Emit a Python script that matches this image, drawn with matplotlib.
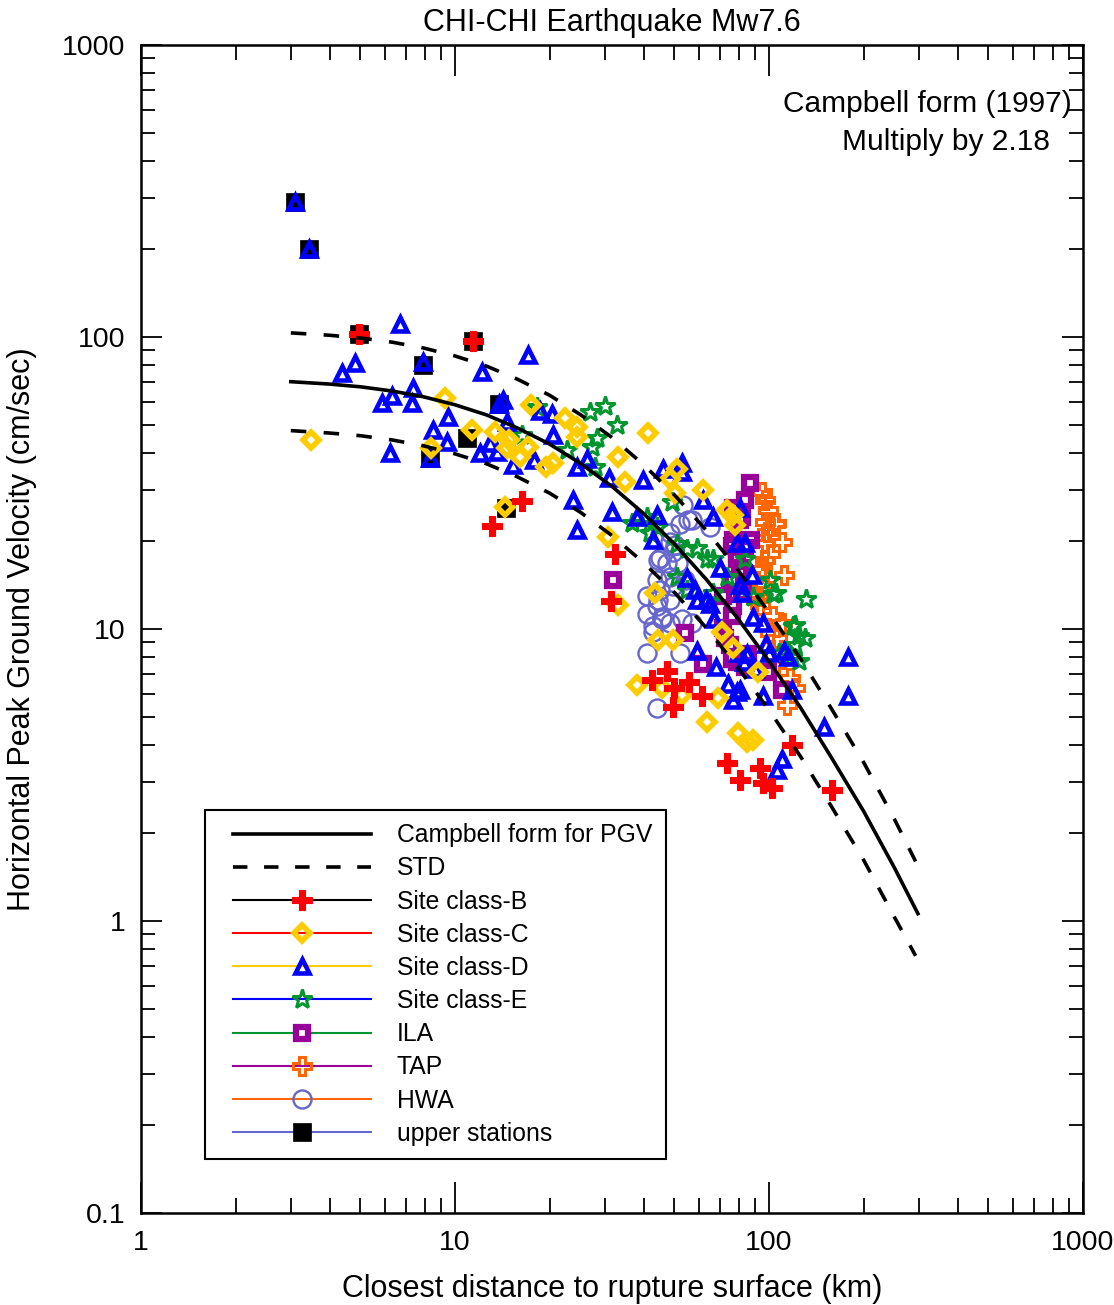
import matplotlib
matplotlib.use('Agg')
import matplotlib.pyplot as plt
from matplotlib.lines import Line2D
from matplotlib.legend_handler import HandlerLine2D
from matplotlib.ticker import FixedLocator, NullFormatter, FixedFormatter

plt.rcParams['font.family'] = ['Liberation Sans', 'DejaVu Sans']

# model curves
curve_r = [3.0, 3.98, 5.01, 6.31, 7.94, 10, 12.6, 15.8, 20, 25.1, 31.6, 39.8,
           50.1, 63.1, 79.4, 100, 126, 158, 200, 251, 298]
curve_pgv = [70.3, 69.0, 67.5, 65.3, 62.4, 58.6, 54.1, 48.8, 43.0, 36.9, 30.8,
             24.9, 19.5, 14.8, 10.9, 7.76, 5.38, 3.63, 2.38, 1.52, 1.06]
std_r = [3.0, 3.98, 5.01, 6.31, 7.94, 10, 12.6, 15.8, 20, 25.1, 31.6, 39.8,
         50.1, 63.1, 79.4, 100, 126, 158, 200, 251, 293]
std_hi_pgv = [103.3, 101.4, 99.2, 96.0, 91.7, 86.1, 79.5, 71.7, 63.2, 54.2,
              45.3, 36.6, 28.7, 21.8, 16.0, 11.4, 7.91, 5.34, 3.50, 2.23, 1.60]
std_lo_pgv = [47.8, 46.9, 45.9, 44.4, 42.4, 39.8, 36.8, 33.2, 29.2, 25.1,
              20.9, 16.9, 13.3, 10.1, 7.41, 5.28, 3.66, 2.47, 1.62, 1.03, 0.76]

# observations
upper_r = [3.1, 3.43, 4.94, 11.4, 7.9, 13.8, 10.9, 8.3, 14.5]
upper_pgv = [290, 200, 102, 97, 80, 59, 45, 38.6, 26]

hwa_r = [53.2, 55.2, 52, 48.3, 50.2, 45, 47.4, 65, 57, 48.3, 49.4, 44.3, 51.2,
         48.3, 44, 49.4, 45, 41, 48.3, 44, 41, 45.7, 42.6, 48.3, 41, 52, 57,
         54, 44.3, 45.7, 53, 42.6, 44]
hwa_pgv = [26.6, 23.6, 22.8, 21.3, 19.4, 17.5, 16.8, 22.3, 23.6, 19.8, 18.3,
           17.2, 16.8, 15.1, 14.7, 14.0, 13.6, 13.0, 12.6, 12.0, 11.3, 11.0,
           10.2, 10.5, 8.3, 8.3, 10.5, 14.7, 12.6, 10.8, 10.8, 9.8, 5.36]

tap_r = [95, 97, 99.4, 97, 104.5, 98.7, 110, 97, 100.6, 97, 112, 95, 97, 92,
         93.5, 87, 103, 100.6, 106, 105.5, 117, 121, 114, 110, 105.5]
tap_pgv = [29.5, 27.6, 25.6, 23.3, 22.8, 21.5, 19.8, 19.7, 18.1, 17.2, 15.3,
           16.0, 14.1, 13.0, 12.1, 13.2, 11.1, 9.7, 9.3, 7.5, 6.8, 6.3, 5.5,
           10.5, 23.1]

ila_r = [87, 84, 77, 82, 81, 77, 76.4, 79, 87.8, 83.6, 79, 82, 81, 76.4, 75,
         82.6, 77, 31.9, 54, 71.5, 61.6, 76.4, 72.5, 79, 86, 71.5, 75, 76.4,
         83.6, 99, 110]
ila_pgv = [31.6, 27.6, 26, 24.1, 23.7, 20.2, 19.3, 18.1, 20.2, 19.0, 17.4,
           16.2, 15.6, 14.7, 13.2, 13.3, 12.0, 14.7, 9.7, 10.1, 7.6, 11.1, 9.3,
           7.7, 8.2, 13.0, 8.8, 7.9, 7.4, 7.1, 6.2]

e_r = [26.9, 30, 32.8, 28.3, 27.3, 28, 22.7, 36.6, 41, 41.8, 44, 41.8, 49,
       50.9, 54.9, 59, 63.5, 66.3, 50.9, 54.9, 66.3, 73.5, 84, 100.6, 105.5,
       88.7, 131, 119, 125, 103, 121, 130, 121, 125, 118, 108, 16.3, 18.3]
e_pgv = [55.2, 58, 50, 45, 42, 35.8, 41, 23, 24.2, 22.8, 22.3, 21.4, 27.2,
         19.5, 18.8, 19, 17.3, 17.3, 15.1, 13.6, 13.3, 15.1, 17.3, 14.7, 13.3,
         12.9, 12.7, 10.2, 9.5, 13.2, 10.3, 9.3, 8.8, 7.8, 8.0, 8.3, 46, 57.5]

d_r = [3.1, 3.43, 6.7, 4.8, 4.37, 7.9, 12.2, 17.1, 6.3, 7.3, 7.35, 5.85, 9.5,
       8.5, 9.4, 14.2, 14.6, 12.9, 12.0, 13.6, 15.3, 17.9, 20.5, 20.4, 18.6,
       6.2, 8.3, 13.8, 23.7, 24.5, 26.3, 24.5, 31, 39.8, 46, 52.8, 53, 31.6,
       38, 44, 42.6, 61.6, 66.3, 81, 79, 84, 70, 88, 81, 58, 59, 65, 55, 63,
       67, 58.9, 68, 73.8, 81, 76.9, 79.4, 82, 89, 95.6, 97.5, 100, 112, 115,
       85, 83, 90, 79, 95.6, 118, 178, 178, 150, 110, 106]
d_pgv = [290, 200, 111, 81.5, 75.2, 82, 76, 86.6, 62.7, 59.5, 66.9, 59.6,
         53.2, 48.2, 43.7, 60.7, 51.3, 43.4, 40.1, 40.3, 36.4, 37.9, 46.0,
         54.4, 55.7, 40, 38.6, 59, 27.6, 21.9, 38.1, 35.8, 33, 32.3, 35.3, 37,
         34.5, 25.2, 24.2, 24.5, 20.2, 27.6, 24.2, 25.9, 19.7, 19.7, 16.2,
         15.3, 14.1, 13.6, 12.6, 12.2, 14.9, 12.6, 10.8, 8.4, 7.4, 6.5, 6.2,
         5.7, 8.3, 13.3, 11.0, 10.5, 8.9, 8.3, 8.4, 8.0, 8.2, 7.7, 7.3, 6.1,
         5.9, 6.2, 8.0, 5.9, 4.6, 3.6, 3.3]

c_r = [3.48, 9.3, 11.3, 13.4, 14.9, 14.6, 16.1, 17.1, 17.5, 20.5, 22.4, 24.5,
       24.5, 8.4, 14.4, 41.3, 33, 34.8, 48.3, 50.9, 50.2, 61.6, 30.6, 73.5,
       76.9, 78, 33, 43.2, 44.3, 49.4, 71, 76.9, 37.9, 45.6, 52.8, 68.9,
       63.5, 79.4, 85, 89, 92, 19.5]
c_pgv = [44.4, 62, 48, 47.4, 44.4, 41.6, 38.8, 42.0, 58.5, 37, 52.7, 49.1,
         45.4, 41.6, 26.2, 46.9, 38.8, 31.9, 32.6, 35.4, 29.2, 30, 20.7, 25.5,
         24.6, 22.7, 12.1, 13.3, 9.2, 9.2, 9.8, 8.6, 6.45, 6.3, 5.95, 5.8,
         4.8, 4.4, 4.1, 4.17, 7.1, 36.0]

b_r = [4.94, 11.4, 13.1, 16.3, 32.3, 31.4, 42.3, 47.5, 50.0, 55.8, 61.0, 49.4,
       73.5, 81, 93.5, 95.6, 102, 118, 159]
b_pgv = [102, 97, 22.5, 27.4, 18.1, 12.5, 6.7, 7.2, 6.3, 6.6, 5.9, 5.4, 3.48,
         3.04, 3.34, 2.97, 2.85, 4.0, 2.81]

RED = '#ff0000'
GOLD = '#ffcc00'
BLUE = '#0000ff'
GREEN = '#00962f'
PURPLE = '#990099'
ORANGE = '#ff6600'
SLATE = '#6666cc'

sty_b = dict(marker='P', ms=14.5, mfc=RED, mec=RED, mew=0.8)
sty_c = dict(marker='D', ms=8, mfc='none', mec=GOLD, mew=4.0)
sty_d = dict(marker='^', ms=9.5, mfc='none', mec=BLUE, mew=3.3)
sty_e = dict(marker='*', ms=15, mfc='none', mec=GREEN, mew=2.2)
sty_ila = dict(marker='s', ms=8.8, mfc='white', mec=PURPLE, mew=4.5)
sty_tap = dict(marker='P', ms=13, mfc='none', mec=ORANGE, mew=2.2)
sty_hwa = dict(marker='o', ms=13, mfc='none', mec=SLATE, mew=1.7)
sty_up = dict(marker='s', ms=13.5, mfc='black', mec='black', mew=0.5)

fig = plt.figure(figsize=(11.14, 13.05), dpi=100)
ax = fig.add_axes([141 / 1114, 1 - 1213 / 1305, 942 / 1114, 1168 / 1305])

ax.plot(upper_r, upper_pgv, ls='none', zorder=2, **sty_up)
ax.plot(hwa_r, hwa_pgv, ls='none', zorder=3, **sty_hwa)
ax.plot(tap_r, tap_pgv, ls='none', zorder=3, **sty_tap)
ax.plot(ila_r, ila_pgv, ls='none', zorder=3, **sty_ila)
ax.plot(e_r, e_pgv, ls='none', zorder=3, **sty_e)
ax.plot(d_r, d_pgv, ls='none', zorder=3, **sty_d)
ax.plot(c_r, c_pgv, ls='none', zorder=3, **sty_c)
ax.plot(b_r, b_pgv, ls='none', zorder=3, **sty_b)

ax.plot(curve_r, curve_pgv, color='black', lw=2.6, zorder=5)
ax.plot(std_r, std_hi_pgv, color='black', lw=2.6, dashes=(4.3, 4.8), zorder=5)
ax.plot(std_r, std_lo_pgv, color='black', lw=2.6, dashes=(4.3, 4.8), zorder=5)

ax.set_xscale('log')
ax.set_yscale('log')
ax.set_xlim(1, 1000)
ax.set_ylim(0.1, 1000)

x_major = [1, 10, 100, 1000]
y_major = [0.1, 1, 10, 100, 1000]
ax.xaxis.set_major_locator(FixedLocator(x_major))
ax.xaxis.set_major_formatter(FixedFormatter(['1', '10', '100', '1000']))
ax.yaxis.set_major_locator(FixedLocator(y_major))
ax.yaxis.set_major_formatter(FixedFormatter(['0.1', '1', '10', '100', '1000']))
x_minor = [m * 10 ** k for k in range(3) for m in range(2, 10)]
y_minor = [m * 10 ** k for k in range(-1, 3) for m in range(2, 10)]
ax.xaxis.set_minor_locator(FixedLocator(x_minor))
ax.yaxis.set_minor_locator(FixedLocator(y_minor))
ax.xaxis.set_minor_formatter(NullFormatter())
ax.yaxis.set_minor_formatter(NullFormatter())

ax.tick_params(axis='x', which='major', direction='in', length=22, width=1.3,
               top=True, labelsize=20.5, pad=12)
ax.tick_params(axis='x', which='minor', direction='in', length=11, width=1.3,
               top=True)
ax.tick_params(axis='y', which='major', direction='in', length=15, width=1.3,
               right=True, labelsize=20.5, pad=11)
ax.tick_params(axis='y', which='minor', direction='in', length=10, width=1.3,
               right=True)
for sp in ax.spines.values():
    sp.set_linewidth(1.8)

ax.set_title('CHI-CHI Earthquake Mw7.6', fontsize=22, pad=10)
ax.set_xlabel('Closest distance to rupture surface (km)', fontsize=22,
              labelpad=13)
ax.set_ylabel('Horizontal Peak Ground Velocity (cm/sec)', fontsize=22,
              labelpad=18)

ax.text(0.988, 0.9495, 'Campbell form (1997)', transform=ax.transAxes,
        ha='right', va='center', fontsize=21.5, zorder=6)
ax.text(0.965, 0.917, 'Multiply by 2.18', transform=ax.transAxes,
        ha='right', va='center', fontsize=21.5, zorder=6)

handles = [
    Line2D([], [], color='black', lw=2.6),
    Line2D([], [], color='black', lw=2.6, dashes=(4.0, 4.6)),
    Line2D([], [], color='black', lw=1.5, **sty_b),
    Line2D([], [], color=RED, lw=1.5, **sty_c),
    Line2D([], [], color=GOLD, lw=1.5, **sty_d),
    Line2D([], [], color=BLUE, lw=1.5, **sty_e),
    Line2D([], [], color=GREEN, lw=1.5, **sty_ila),
    Line2D([], [], color=PURPLE, lw=1.5, **sty_tap),
    Line2D([], [], color=ORANGE, lw=1.5, **sty_hwa),
    Line2D([], [], color=SLATE, lw=1.5, **sty_up),
]
labels = ['Campbell form for PGV', 'STD', 'Site class-B', 'Site class-C',
          'Site class-D', 'Site class-E', 'ILA', 'TAP', 'HWA', 'upper stations']
leg = ax.legend(handles, labels, loc='lower left',
                bbox_to_anchor=(0.068, 0.046), borderaxespad=0,
                fontsize=17.8, handlelength=6.15, handletextpad=1.05,
                labelspacing=0.37, borderpad=0.55, fancybox=False,
                edgecolor='black', framealpha=1,
                handler_map={Line2D: HandlerLine2D(xpad=0.58)})
leg.get_frame().set_linewidth(1.5)
leg.set_zorder(7)

fig.savefig('out.png', dpi=100)
